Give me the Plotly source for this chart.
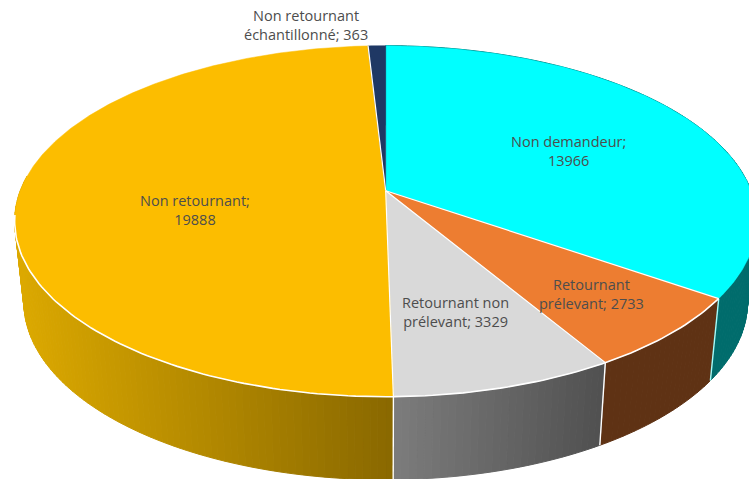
import math
import plotly.graph_objects as go

categories = ["Non demandeur", "Retournant prélevant", "Retournant non prélevant",
              "Non retournant", "Non retournant échantillonné"]
values = [13966, 2733, 3329, 19888, 363]
label_lines = ["Non demandeur;<br>13966", "Retournant<br>prélevant; 2733",
               "Retournant non<br>prélevant; 3329", "Non retournant;<br>19888",
               "Non retournant<br>échantillonné; 363"]

top_colors = ["#00FFFF", "#ED7D31", "#D9D9D9", "#FCBD00", "#1F3864"]
wall_colors = ["#006C6C", "#5F3214", "#7F7F7F", "#DCA900", "#14264A"]
label_x = [568, 591, 455, 195, 306]
label_y = [151, 294, 312, 210, 25]

# Projection of the disc onto the picture (perspective of the 3D pie)
CX, CY = 385.7, 190.7
A, B, K = 365.4, 170.2, 0.1738
WALL_SX, WALL_SY, WALL_DY = 0.975, 1.01, 79.0


def rim(deg):
    t = math.radians(deg)
    u, v = math.sin(t), math.cos(t)
    d = 1 + K * v
    return CX + A * u / d, CY - B * v / d


def base(deg):
    x, y = rim(deg)
    return CX + WALL_SX * (x - CX), WALL_SY * y + WALL_DY


def lerp_hex(c1, c2, f):
    a = [int(c1[i:i + 2], 16) for i in (1, 3, 5)]
    b = [int(c2[i:i + 2], 16) for i in (1, 3, 5)]
    return "#%02x%02x%02x" % tuple(round(p + (q - p) * f) for p, q in zip(a, b))


total = sum(values)
starts, ends = [], []
acc = 0.0
for val in values:
    starts.append(acc / total * 360)
    acc += val
    ends.append(acc / total * 360)


def arc(a0, a1, step=0.5):
    n = max(2, int((a1 - a0) / step))
    return [a0 + (a1 - a0) * i / n for i in range(n + 1)]


fig = go.Figure()


def poly(xs, ys, fill, line=None, width=1):
    fig.add_trace(go.Scatter(x=xs, y=ys, mode="lines", fill="toself", fillcolor=fill,
                             line=dict(color=line or fill, width=width),
                             hoverinfo="skip", showlegend=False))


def stroke(xs, ys, color="#FFFFFF", width=1.6):
    fig.add_trace(go.Scatter(x=xs, y=ys, mode="lines", line=dict(color=color, width=width),
                             hoverinfo="skip", showlegend=False))


# Side walls: thin vertical strips, shaded left to right (light to dark)
GRAD = {2: ("#7C7C7C", "#505050"), 3: ("#DCA900", "#896800")}
for i in range(len(values) - 1):
    a0, a1 = starts[i], ends[i]
    if i == 3:
        a1 = 275.0   # the far part of the wall is hidden by the top face
    angles = arc(a0, a1, 1.0)
    xvals = [rim(a)[0] for a in angles]
    xl, xr = min(xvals), max(xvals)
    for j in range(len(angles) - 1):
        p, q = angles[j], angles[j + 1]
        xs = [rim(p)[0], rim(q)[0], base(q)[0], base(p)[0], rim(p)[0]]
        ys = [rim(p)[1], rim(q)[1], base(q)[1], base(p)[1], rim(p)[1]]
        if i in GRAD:
            f = ((xs[0] + xs[1]) / 2 - xl) / (xr - xl)
            col = lerp_hex(GRAD[i][0], GRAD[i][1], f)
        else:
            col = wall_colors[i]
        poly(xs, ys, col)

# Wall separators
for deg, col in [(starts[1], "#9FFFFF"), (starts[2], "#FFFFFF"), (starts[3], "#FFFFFF")]:
    stroke([rim(deg)[0], base(deg)[0]], [rim(deg)[1], base(deg)[1]], col, 1.4)

# Top face
for i in range(len(values)):
    pts = [rim(d) for d in arc(starts[i], ends[i])]
    xs = [CX] + [p[0] for p in pts] + [CX]
    ys = [CY] + [p[1] for p in pts] + [CY]
    poly(xs, ys, top_colors[i], width=0.5)

# White slice outlines
for i in range(1, len(values)):
    x, y = rim(starts[i])
    stroke([CX, x], [CY, y], "#FFFFFF", 1.2)
pts = [rim(d) for d in arc(starts[1], 262, 1.0)]
stroke([p[0] for p in pts], [p[1] for p in pts], "#FFFFFF", 1.6)

for txt, lx, ly in zip(label_lines, label_x, label_y):
    fig.add_annotation(x=lx, y=ly, text=txt, showarrow=False, xanchor="center", yanchor="middle",
                       font=dict(family="Open Sans", size=14.5, color="#4D4D4D"), align="center")

fig.update_xaxes(range=[0, 749], visible=False, fixedrange=True)
fig.update_yaxes(range=[479, 0], visible=False, fixedrange=True)
fig.update_layout(width=749, height=479, margin=dict(l=0, r=0, t=0, b=0),
                  paper_bgcolor="white", plot_bgcolor="white", showlegend=False)
fig.write_html("out.html", config={"displayModeBar": False},
               post_script="document.body.style.margin='0';document.body.style.overflow='hidden';")
